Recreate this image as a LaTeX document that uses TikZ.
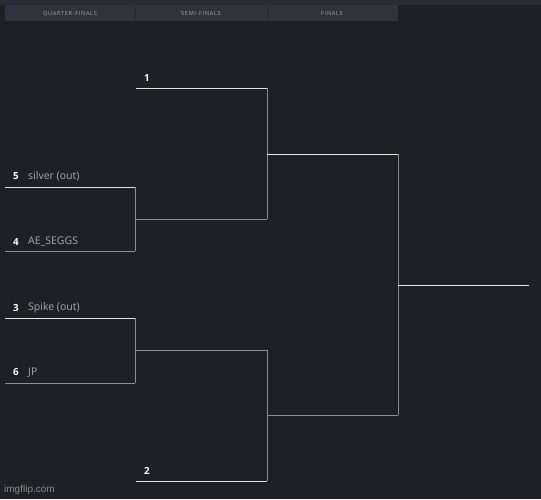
\documentclass[tikz,border=0pt]{standalone}
\usepackage{fontspec}
\setmainfont{Open Sans}
\newfontfamily\hdrfont[LetterSpace=12]{Open Sans}
\newfontfamily\wmfont{Liberation Sans}
\definecolor{bgc}{HTML}{1F2025}
\definecolor{topc}{HTML}{2A2C33}
\definecolor{tabc}{HTML}{30333C}
\definecolor{tabsep}{HTML}{262830}
\definecolor{hdrtxt}{HTML}{A3A6AE}
\definecolor{linew}{HTML}{E2E2E2}
\definecolor{lineg}{HTML}{8E8E8E}
\definecolor{namec}{HTML}{A8A8A8}
\definecolor{wmc}{HTML}{8A8A8A}
\begin{document}
\begin{tikzpicture}[x=1pt,y=-1pt,
  seedlbl/.style={anchor=west,inner sep=0pt,text=white,font=\fontsize{9.8}{11}\selectfont\bfseries},
  namelbl/.style={anchor=west,inner sep=0pt,text=namec,font=\fontsize{10.5}{12}\selectfont},
  hdr/.style={inner sep=0pt,text=hdrtxt,font=\hdrfont\fontsize{5.6}{6}\selectfont},
  wl/.style={draw=linew,line width=1pt},
  gl/.style={draw=lineg,line width=1pt}]
\fill[bgc] (0,0) rectangle (541,499);
\useasboundingbox (0,0) rectangle (541,499);
\fill[topc] (0,0) rectangle (541,5);
\fill[tabc] (5,5) rectangle (398,21);
\draw[tabsep,line width=0.8pt] (135.5,5) -- (135.5,21);
\draw[tabsep,line width=0.8pt] (267.5,5) -- (267.5,21);
\node[hdr] (h1) at (70,13.5) {QUARTER-FINALS};
\node[hdr] (h2) at (201,13.5) {SEMI-FINALS};
\node[hdr] (h3) at (332,13.5) {FINALS};
% coordinates
\coordinate (a1) at (5,187);
\coordinate (a2) at (135,187);
\coordinate (b1) at (5,251);
\coordinate (b2) at (135,251);
\coordinate (ab) at (135,219);
\coordinate (c1) at (5,318);
\coordinate (c2) at (135,318);
\coordinate (d1) at (5,383);
\coordinate (d2) at (135,383);
\coordinate (cd) at (135,350);
\coordinate (t1) at (136,88);
\coordinate (t2) at (267,88);
\coordinate (s1) at (267,219);
\coordinate (u1) at (136,481);
\coordinate (u2) at (267,481);
\coordinate (s2) at (267,350);
\coordinate (st) at (267,154);
\coordinate (sb) at (267,415);
\coordinate (f1) at (398,154);
\coordinate (f2) at (398,415);
\coordinate (fm) at (398,285);
\coordinate (fe) at (529,285);
% lines
\draw[wl] (a1) -- (a2);
\draw[gl] (b1) -- (b2);
\draw[gl] (a2) -- (b2);
\draw[gl] (ab) -- (s1);
\draw[wl] (c1) -- (c2);
\draw[gl] (d1) -- (d2);
\draw[gl] (c2) -- (d2);
\draw[gl] (cd) -- (s2);
\draw[wl] (t1) -- (t2);
\draw[gl] (t2) -- (s1);
\draw[wl] (u1) -- (u2);
\draw[gl] (u2) -- (s2);
\draw[wl] (st) -- (f1);
\draw[gl] (sb) -- (f2);
\draw[gl] (f1) -- (f2);
\draw[wl] (fm) -- (fe);
% labels
\node[seedlbl] (n5) at (13,176.5) {5};
\node[namelbl] (p5) at (28,176.5) {silver (out)};
\node[seedlbl] (n4) at (13,241.5) {4};
\node[namelbl] (p4) at (28,241.5) {AE\_SEGGS};
\node[seedlbl] (n3) at (13,307.5) {3};
\node[namelbl] (p3) at (28,307.5) {Spike (out)};
\node[seedlbl] (n6) at (13,372.5) {6};
\node[namelbl] (p6) at (28,372.5) {JP};
\node[seedlbl] (n1) at (144,77.5) {1};
\node[seedlbl] (n2) at (144,470.5) {2};
\node[anchor=west,inner sep=0pt,text=wmc,font=\wmfont\fontsize{10}{12}\selectfont] (wm) at (4,490) {imgflip.com};
\end{tikzpicture}
\end{document}
